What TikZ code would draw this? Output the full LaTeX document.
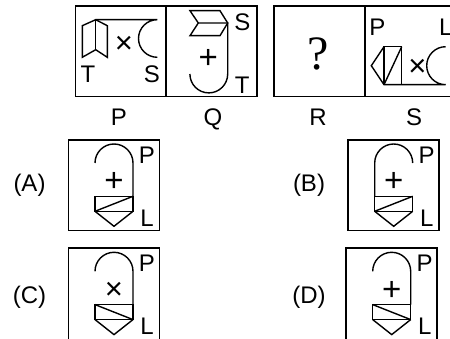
\documentclass[tikz,border=0pt]{standalone}
\usepackage{fontspec}
\setmainfont{Liberation Sans}
\newfontfamily\serifq{Liberation Serif}
\begin{document}
\begin{tikzpicture}[x=1pt,y=-1pt,
  box/.style={line width=1.8pt},
  fig/.style={line width=1.4pt, line join=miter},
  lab/.style={inner sep=0pt, font=\fontsize{24}{24}\selectfont, text height=17.2pt, text depth=0pt},
  inlab/.style={inner sep=0pt, font=\fontsize{24}{24}\selectfont, text height=17.2pt, text depth=0pt},
  plussym/.style={inner sep=0pt, font=\fontsize{33}{33}\selectfont, text height=23.4pt, text depth=0pt},
  timessym/.style={inner sep=0pt, font=\fontsize{31}{31}\selectfont, text height=22pt, text depth=0pt},
  qm/.style={inner sep=0pt, font=\serifq\fontsize{48}{48}\selectfont, text height=32.6pt, text depth=0pt},
]
\useasboundingbox (0,0) rectangle (450,339);
\clip (0,0) rectangle (450,339);

% top boxes
\draw[box] (75.5,5.7) rectangle (166,96.5);
\draw[box] (166,5.7) rectangle (257.3,96.5);
\draw[box] (274,5.7) rectangle (365.3,96.5);
\draw[box] (365.3,5.7) rectangle (470,96.5);

% P
\draw[fig] (95.7,19.7) -- (82.3,25.7) -- (82.3,57.3) -- (95.7,49.7) -- (107.3,57.3) -- (107.3,25.7) -- cycle;
\draw[fig] (95.7,19.7) -- (95.7,49.7);
\draw[fig] (95.7,19.7) -- (157.3,19.7) arc[start angle=270, end angle=90, radius=18.8];
\node[timessym] (px) at (124,42.3) {×};
\node[inlab] (pt) at (88,74) {T};
\node[inlab] (ps) at (152,73.7) {S};

% Q
\draw[fig] (190,10.7) -- (220,10.7) -- (227.7,23) -- (220,35.7) -- (190,35.7) -- (198.3,23) -- cycle;
\draw[fig] (198.3,23) -- (227.7,23) -- (227.7,74) arc[start angle=0, end angle=180, radius=18.9];
\node[plussym] (qp) at (208.3,57.3) {+};
\node[inlab] (qs) at (242.3,22.3) {S};
\node[inlab] (qt) at (242.3,84.7) {T};

% R
\node[qm] (rq) at (318.3,53.3) {?};

% S
\node[inlab] (sp) at (377.3,27.3) {P};
\node[inlab] (sl) at (445.7,27.3) {L};
\draw[fig] (384,46.7) rectangle (401.7,84.7);
\draw[fig] (384,84.7) -- (401.7,46.7);
\draw[fig] (384,46.7) -- (371.3,65.7) -- (384,84.7) -- (445.7,84.7) arc[start angle=90, end angle=270, radius=19];
\node[timessym] (sx) at (417.3,65.7) {×};

% labels under
\node[lab] (lP) at (119,117) {P};
\node[lab] (lQ) at (213,117) {Q};
\node[lab] (lR) at (318,117) {R};
\node[lab] (lS) at (414,117) {S};

% option labels
\node[lab] (oA) at (29.5,183.3) {(A)};
\node[lab] (oB) at (309,183.3) {(B)};
\node[lab] (oC) at (29.5,295) {(C)};
\node[lab] (oD) at (309,295) {(D)};

% A
\begin{scope}
\draw[box] (68.5,139.7) rectangle (159.5,230.5);
\draw[fig] (95,163) arc[start angle=180, end angle=360, radius=19] -- (133,196.3);
\draw[fig] (95,196.3) rectangle (133,211.3);
\draw[fig] (95,211.3) -- (133,196.3);
\draw[fig] (95,211.3) -- (114,226.3) -- (133,211.3);
\node[plussym] (ap) at (114,180.3) {+};
\node[inlab] (aP) at (147,154.7) {P};
\node[inlab] (aL) at (147,218) {L};
\end{scope}

% B
\begin{scope}[shift={(279.7,0)}]
\draw[box] (68.5,139.7) rectangle (159.5,230.5);
\draw[fig] (133,163) arc[start angle=0, end angle=-180, radius=19] -- (95,196.3);
\draw[fig] (95,196.3) rectangle (133,211.3);
\draw[fig] (95,211.3) -- (133,196.3);
\draw[fig] (95,211.3) -- (114,226.3) -- (133,211.3);
\node[plussym] (bp) at (114,180.3) {+};
\node[inlab] (bP) at (147,154.7) {P};
\node[inlab] (bL) at (147,218) {L};
\end{scope}

% C
\begin{scope}[shift={(0,108.3)}]
\draw[box] (68.5,139.7) rectangle (159.5,260);
\draw[fig] (95,163) arc[start angle=180, end angle=360, radius=19] -- (133,196.3);
\draw[fig] (95,196.3) rectangle (133,211.3);
\draw[fig] (95,196.3) -- (133,211.3);
\draw[fig] (95,211.3) -- (114,226.3) -- (133,211.3);
\node[timessym] (cx) at (114,180.3) {×};
\node[inlab] (cP) at (147,154.7) {P};
\node[inlab] (cL) at (147,218) {L};
\end{scope}

% D
\begin{scope}[shift={(277.7,108.3)}]
\draw[box] (68.5,139.7) rectangle (159.5,260);
\draw[fig] (95,163) arc[start angle=180, end angle=360, radius=19] -- (133,196.3);
\draw[fig] (95,196.3) rectangle (133,211.3);
\draw[fig] (95,196.3) -- (133,211.3);
\draw[fig] (95,211.3) -- (114,226.3) -- (133,211.3);
\node[plussym] (dp) at (114,180.3) {+};
\node[inlab] (dP) at (147,154.7) {P};
\node[inlab] (dL) at (147,218) {L};
\end{scope}
\end{tikzpicture}
\end{document}
